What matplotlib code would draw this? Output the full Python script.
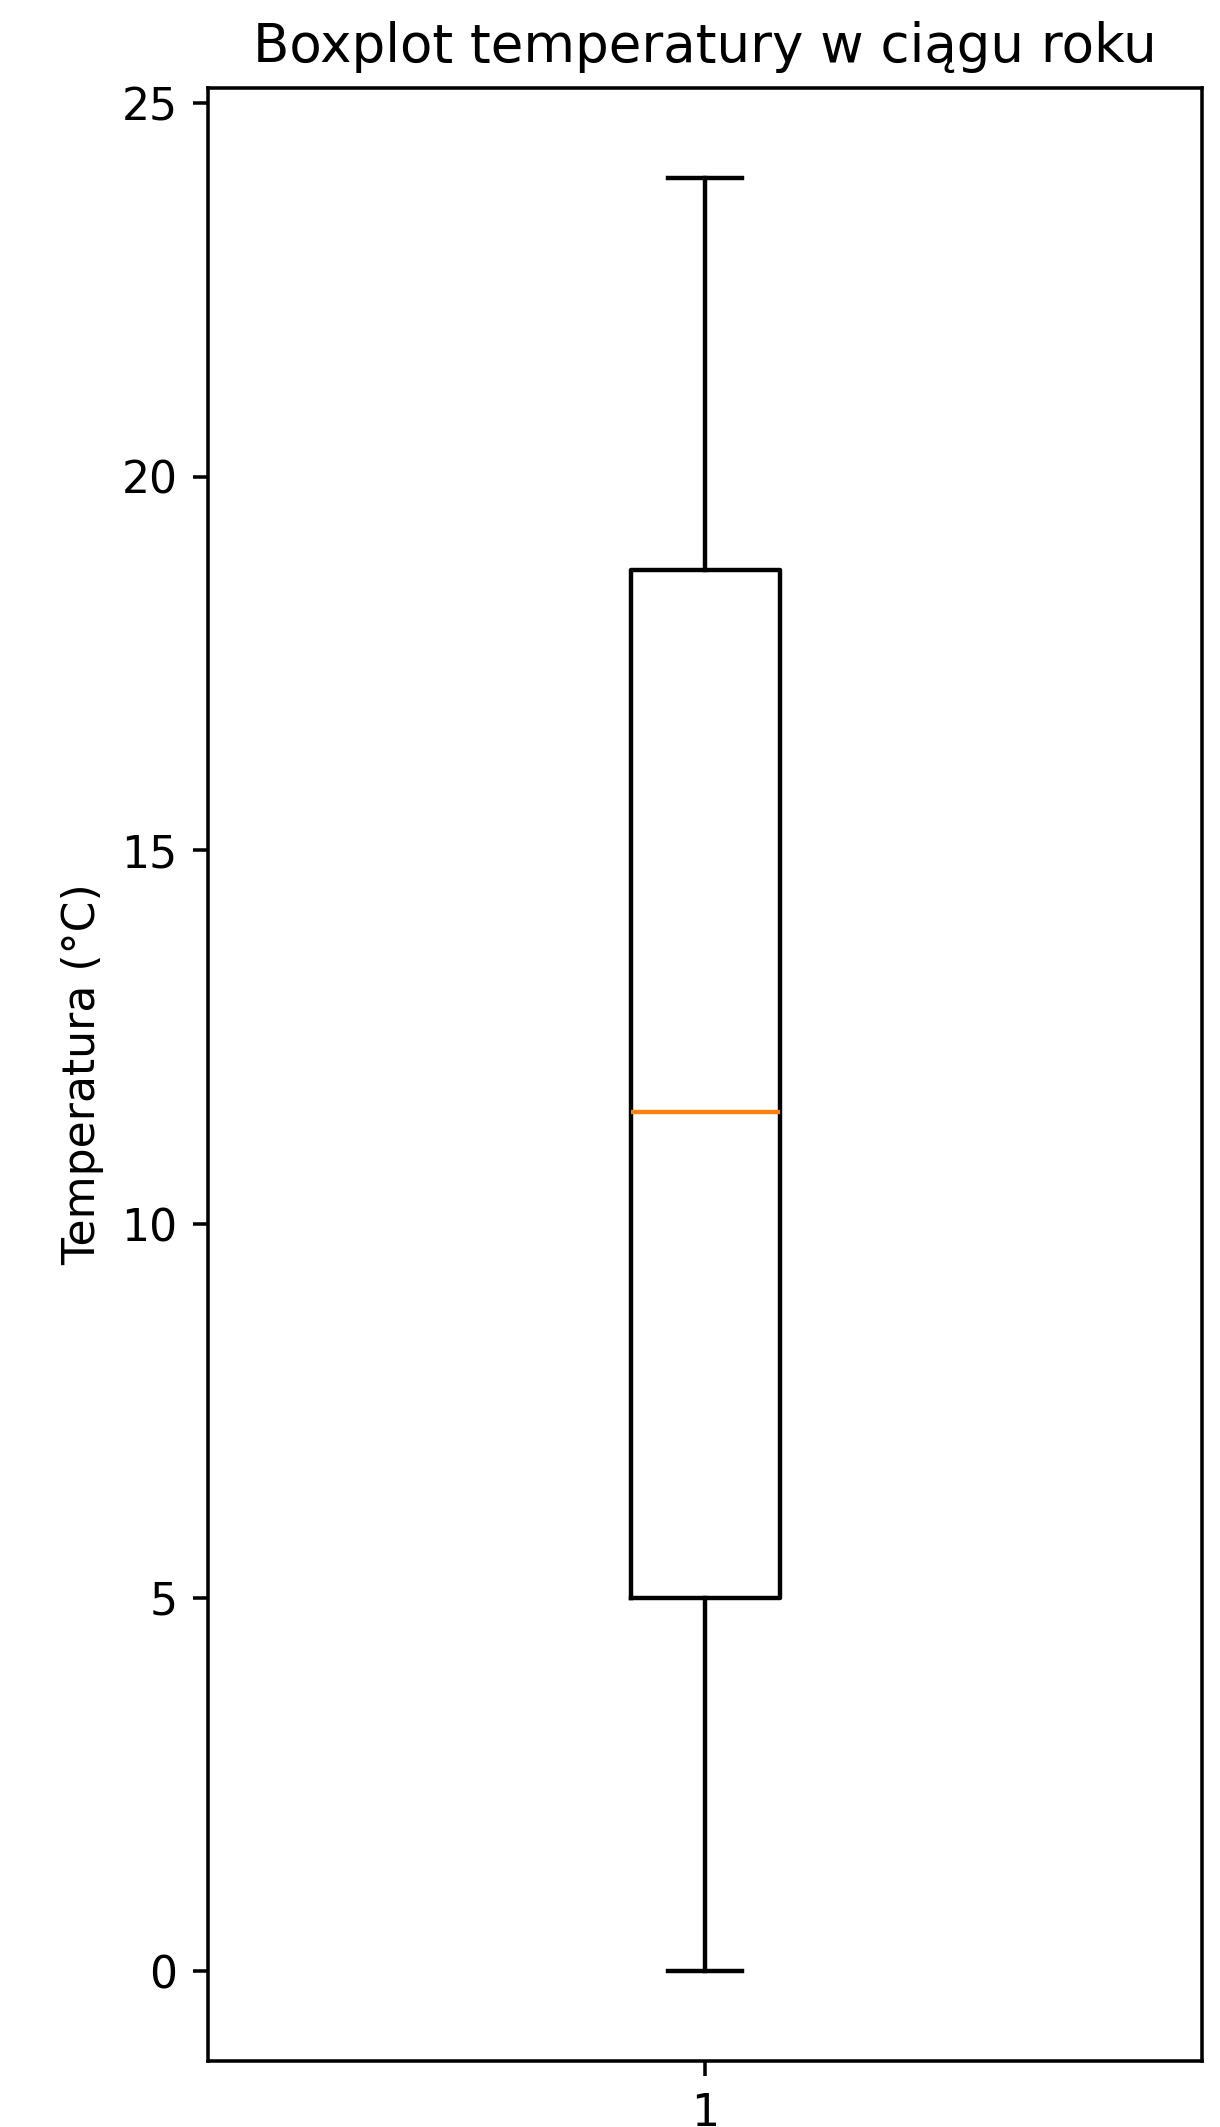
import matplotlib
matplotlib.use('Agg')
import matplotlib.pyplot as plt

# monthly mean temperatures (Jan..Dec)
months = ['Sty', 'Lut', 'Mar', 'Kwi', 'Maj', 'Cze', 'Lip', 'Sie', 'Wrz', 'Paź', 'Lis', 'Gru']
temperatures = [0, 1, 5, 10, 15, 21, 24, 22, 18, 13, 8, 5]

DPI = 318
fig = plt.figure(figsize=(1220 / DPI, 2127 / DPI), dpi=DPI)
ax = fig.add_axes([0.1709, 0.0310, 0.8143, 0.9276])

ax.boxplot(temperatures)
ax.set_title('Boxplot temperatury w ciągu roku')
ax.set_ylabel('Temperatura (°C)')

plt.savefig('out.png', dpi=DPI)
plt.close()
